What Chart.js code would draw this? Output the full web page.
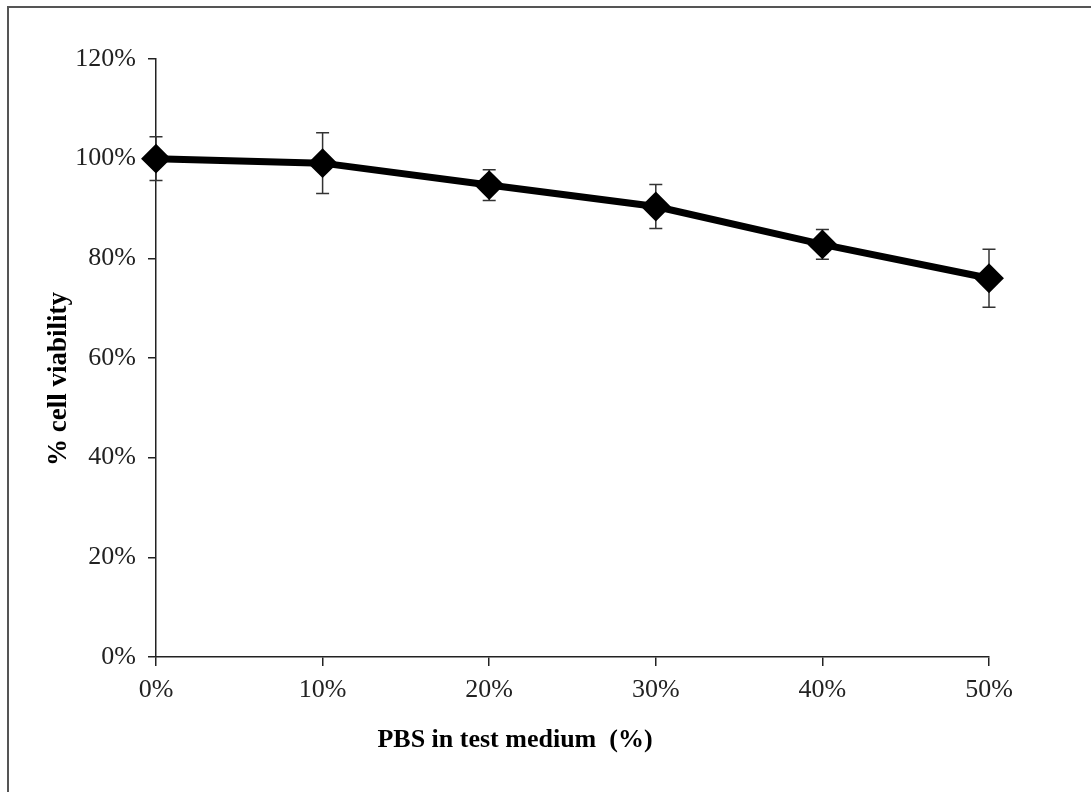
<!DOCTYPE html>
<html>
<head>
<meta charset="utf-8">
<script src="https://cdn.jsdelivr.net/npm/chart.js@4"></script>
<style>
  html, body { margin: 0; padding: 0; background: #fff; overflow: hidden; }
  #wrap { position: relative; width: 1091px; height: 792px; }
  #frame { position: absolute; left: 7px; top: 6px; width: 1200px; height: 900px;
           border-left: 2px solid #555; border-top: 2px solid #555; pointer-events: none; }
</style>
</head>
<body>
<div id="wrap">
  <div id="frame"></div>
  <canvas id="chart"></canvas>
</div>
<script>
// --- Dados do gráfico ---
const pbsLabels = ['0%', '10%', '20%', '30%', '40%', '50%'];
const viability = [100, 99.1, 94.7, 90.4, 82.8, 76.0];
const viabilityErr = [4.4, 6.1, 3.1, 4.4, 3.0, 5.8];
const yTicks = [0, 20, 40, 60, 80, 100, 120];

const xTitle = 'PBS in test medium  (%)';
const yTitle = '% cell viability';

// barras de erro desenhadas com as escalas do Chart.js
const errorBars = {
    id: 'errorBars',
    beforeDatasetsDraw(chart) {
        const ctx = chart.ctx;
        const x = chart.scales.x, y = chart.scales.y;
        ctx.save();
        ctx.strokeStyle = '#333';
        ctx.lineWidth = 1.5;
        viability.forEach((v, i) => {
            const px = x.getPixelForValue(i);
            const top = y.getPixelForValue(v + viabilityErr[i]);
            const bot = y.getPixelForValue(v - viabilityErr[i]);
            ctx.beginPath();
            ctx.moveTo(px, top); ctx.lineTo(px, bot);
            ctx.moveTo(px - 6.5, top); ctx.lineTo(px + 6.5, top);
            ctx.moveTo(px - 6.5, bot); ctx.lineTo(px + 6.5, bot);
            ctx.stroke();
        });
        ctx.restore();
    }
};

// títulos dos eixos (posição fora do centro, como no original)
const axisTitles = {
    id: 'axisTitles',
    afterDraw(chart) {
        const ctx = chart.ctx;
        ctx.save();
        ctx.fillStyle = '#000';
        ctx.textAlign = 'center';
        ctx.textBaseline = 'middle';
        ctx.font = 'bold 26px "Liberation Serif", "Times New Roman", serif';
        ctx.fillText(xTitle, 515, 740);
        ctx.font = 'bold 27px "Liberation Serif", "Times New Roman", serif';
        ctx.translate(59, 379);
        ctx.rotate(-Math.PI / 2);
        ctx.fillText(yTitle, 0, 0);
        ctx.restore();
    }
};

new Chart(document.getElementById('chart'), {
    type: 'line',
    data: {
        labels: pbsLabels,
        datasets: [{
            data: viability,
            borderColor: '#000',
            backgroundColor: '#000',
            borderWidth: 7,
            pointStyle: 'rectRot',
            pointRadius: 10,
            pointHoverRadius: 10,
            tension: 0
        }]
    },
    options: {
        responsive: true,
        maintainAspectRatio: false,
        animation: false,
        layout: { padding: { left: 0, top: 59, right: 102, bottom: 0 } },
        plugins: { legend: { display: false }, tooltip: { enabled: false } },
        scales: {
            x: {
                offset: false,
                afterFit: s => { s.height = 135; },
                border: { display: true, color: '#222', width: 1.5 },
                grid: { display: true, drawOnChartArea: false, drawTicks: true, tickLength: 9, color: '#222', lineWidth: 1.5 },
                ticks: {
                    color: '#222', padding: 9,
                    font: { family: '"Liberation Serif", "Times New Roman", serif', size: 26 }
                }
            },
            y: {
                min: 0, max: 120,
                afterFit: s => { s.width = 156; },
                afterBuildTicks: s => { s.ticks = yTicks.map(v => ({ value: v })); },
                border: { display: true, color: '#222', width: 1.5 },
                grid: { display: true, drawOnChartArea: false, drawTicks: true, tickLength: 8, color: '#222', lineWidth: 1.5 },
                ticks: {
                    color: '#222', padding: 12,
                    callback: v => v + '%',
                    font: { family: '"Liberation Serif", "Times New Roman", serif', size: 26 }
                }
            }
        }
    },
    plugins: [errorBars, axisTitles]
});
</script>
</body>
</html>
